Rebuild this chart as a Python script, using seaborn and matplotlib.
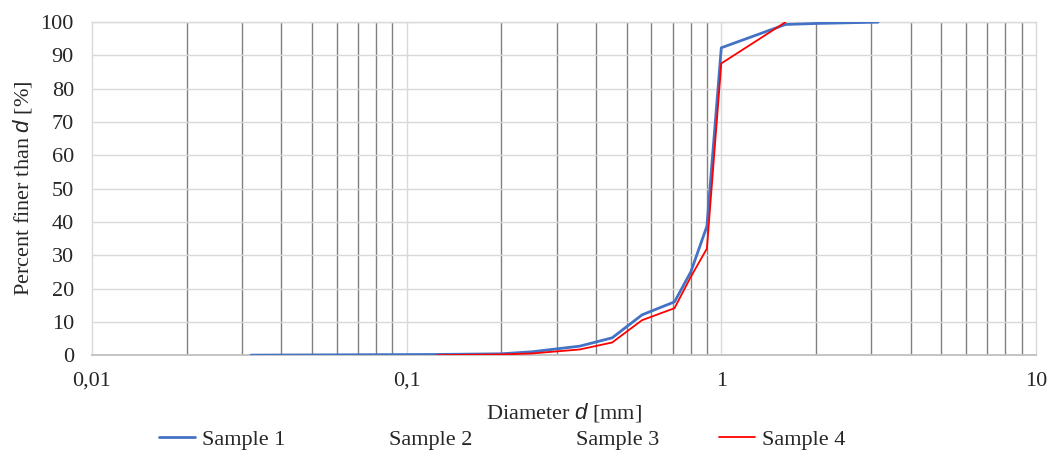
import numpy as np
import pandas as pd
import matplotlib
matplotlib.use('Agg')
import matplotlib.pyplot as plt
import seaborn as sns

# grain size curves (diameter in mm, percent finer)
d_s1 = [0.032, 0.063, 0.125, 0.2, 0.25, 0.355, 0.45, 0.56, 0.71, 0.8, 0.9, 1.0, 1.6, 2.0, 3.15]
p_s1 = [0.0, 0.1, 0.2, 0.4, 1.0, 2.7, 5.2, 12.1, 16.0, 25.0, 38.7, 92.3, 99.3, 99.6, 100.0]
d_s4 = [0.125, 0.2, 0.25, 0.355, 0.45, 0.56, 0.71, 0.8, 0.9, 1.0, 1.6]
p_s4 = [0.0, 0.2, 0.5, 1.7, 3.8, 10.5, 14.1, 23.5, 32.0, 87.6, 100.0]
# samples 2 and 3 have no visible curve
d_s2, p_s2 = [], []
d_s3, p_s3 = [], []

sample_names = ['Sample 1', 'Sample 2', 'Sample 3', 'Sample 4']
sample_colors = ['#4472C4', 'none', 'none', '#FF0000']
sample_widths = [2.0, 1.2, 1.2, 1.3]

x_ticks = [0.01, 0.1, 1, 10]
x_tick_labels = ['0,01', '0,1', '1', '10']
y_ticks = list(range(0, 101, 10))

frames = []
for name, d, p in zip(sample_names, [d_s1, d_s2, d_s3, d_s4], [p_s1, p_s2, p_s3, p_s4]):
    frames.append(pd.DataFrame({'d': d, 'p': p, 'sample': name}))
df = pd.concat(frames, ignore_index=True)

sns.set_style('white')
plt.rcParams['font.family'] = ['Liberation Serif', 'DejaVu Serif']
plt.rcParams['mathtext.fontset'] = 'custom'
plt.rcParams['mathtext.it'] = 'Liberation Sans:italic'
plt.rcParams['mathtext.rm'] = 'Liberation Serif'

fig = plt.figure(figsize=(10.51, 4.71), dpi=100)
ax = fig.add_axes([0.0875, 0.246, 0.8982, 0.707])

ax.set_xscale('log')
ax.set_xlim(0.01, 10)
ax.set_ylim(0, 100)

# grid: dark minor verticals, light majors and horizontals
minor = [m * 10.0 ** e for e in (-2, -1, 0) for m in range(2, 10)]
for xv in minor:
    ax.axvline(xv, color='#808080', lw=1.0, zorder=1)
for xv in [0.1, 1]:
    ax.axvline(xv, color='#D9D9D9', lw=1.0, zorder=1)
for yv in y_ticks[1:]:
    ax.axhline(yv, color='#D9D9D9', lw=1.0, zorder=1)

for name, c, w in zip(sample_names, sample_colors, sample_widths):
    sub = df[df['sample'] == name]
    if len(sub):
        sns.lineplot(data=sub, x='d', y='p', color=c, lw=w, ax=ax, sort=False,
                     estimator=None, label=name, zorder=3, clip_on=True)
    else:
        ax.plot([], [], color=c, lw=w, label=name)

ax.set_xticks(x_ticks)
ax.set_xticklabels(x_tick_labels)
ax.xaxis.set_minor_locator(matplotlib.ticker.NullLocator())
ax.set_yticks(y_ticks)
ax.tick_params(axis='both', length=0, labelsize=16)
ax.tick_params(axis='x', pad=12)
ax.tick_params(axis='y', pad=13)

for s in ['left', 'right', 'top']:
    ax.spines[s].set_color('#D9D9D9')
    ax.spines[s].set_linewidth(1.0)
ax.spines['bottom'].set_color('#BFBFBF')
ax.spines['bottom'].set_linewidth(1.3)

ax.set_xlabel('Diameter $d$ [mm]', fontsize=16, labelpad=7)
ax.set_ylabel('Percent finer than $d$ [%]', fontsize=16, labelpad=5)

if ax.get_legend():
    ax.get_legend().remove()
handles, labels = ax.get_legend_handles_labels()
fig.legend(handles, labels, loc='center', bbox_to_anchor=(0.478, 0.066), ncol=4,
           frameon=False, fontsize=16, handlelength=1.6, handletextpad=0.35,
           columnspacing=2.7)

fig.savefig('out.png', dpi=100)
